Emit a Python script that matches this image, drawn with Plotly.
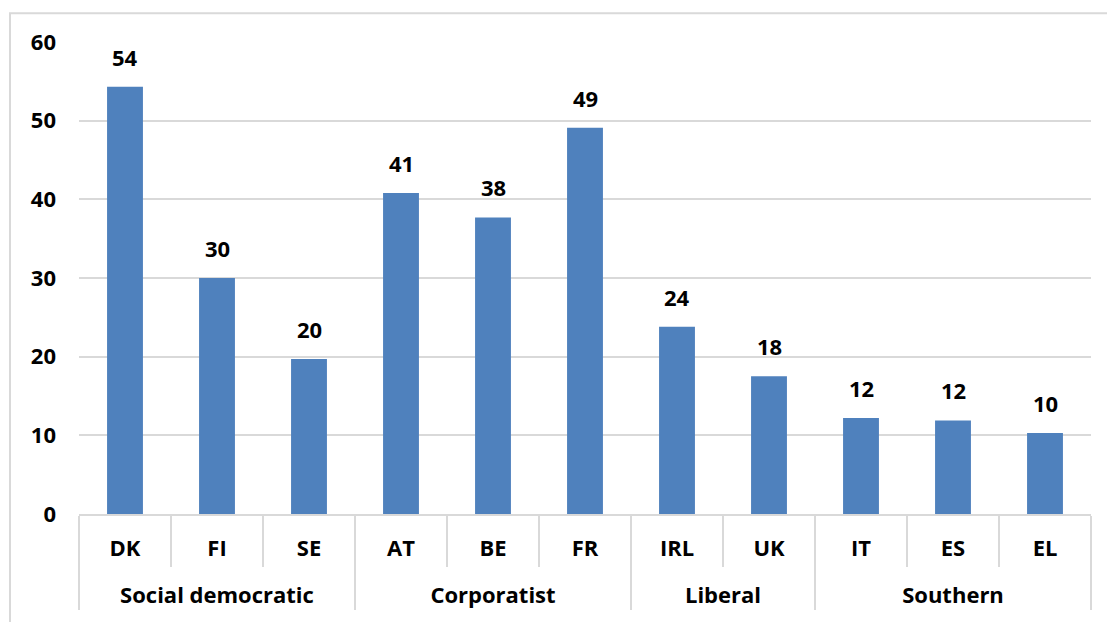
import plotly.graph_objects as go

groups = ["Social democratic"] * 3 + ["Corporatist"] * 3 + ["Liberal"] * 2 + ["Southern"] * 3
countries = ["DK", "FI", "SE", "AT", "BE", "FR", "IRL", "UK", "IT", "ES", "EL"]
values = [54.3, 30.0, 19.7, 40.8, 37.7, 49.1, 23.8, 17.5, 12.2, 11.9, 10.3]
y_ticks = [0, 10, 20, 30, 40, 50, 60]

FONT = "Open Sans"
FS = 22
GRID = "#d9d9d9"

group_labels = ["<br>" + g for g in groups]

fig = go.Figure(
    go.Bar(
        x=[group_labels, countries],
        y=values,
        marker=dict(color="#4f81bd", line=dict(width=0)),
        width=0.39,
        cliponaxis=False,
    )
)

for i, v in enumerate(values):
    fig.add_annotation(
        x=i, y=v, text=f"{v:.0f}", showarrow=False,
        yanchor="bottom", yshift=13,
        font=dict(family=FONT, size=FS, color="black", weight="bold"),
    )

fig.update_layout(
    width=1107,
    height=622,
    margin=dict(l=79, r=16, t=42, b=108),
    paper_bgcolor="white",
    plot_bgcolor="white",
    showlegend=False,
    font=dict(family=FONT, size=FS, color="black", weight="bold"),
    shapes=[
        dict(type="rect", xref="paper", yref="paper",
             x0=-0.0682, x1=1.05, y0=-0.3, y1=1.061,
             line=dict(color=GRID, width=2), layer="below")
    ],
)

fig.update_yaxes(
    range=[0, 60],
    tickvals=y_ticks,
    showgrid=True,
    gridcolor=GRID,
    gridwidth=2,
    zeroline=False,
    showline=False,
    automargin=False,
    ticklabelstandoff=22,
    tickfont=dict(family=FONT, size=FS, color="black", weight="bold"),
)

fig.update_xaxes(
    automargin=False,
    showline=True,
    linecolor=GRID,
    linewidth=2,
    ticks="outside",
    tickson="boundaries",
    ticklen=51,
    tickcolor=GRID,
    tickwidth=2,
    ticklabelstandoff=14,
    showdividers=True,
    dividercolor=GRID,
    dividerwidth=2,
    tickfont=dict(family=FONT, size=FS, color="black", weight="bold"),
)

fig.write_html(
    "out.html",
    config={"displayModeBar": False},
    post_script="document.body.style.margin='0px';",
)
